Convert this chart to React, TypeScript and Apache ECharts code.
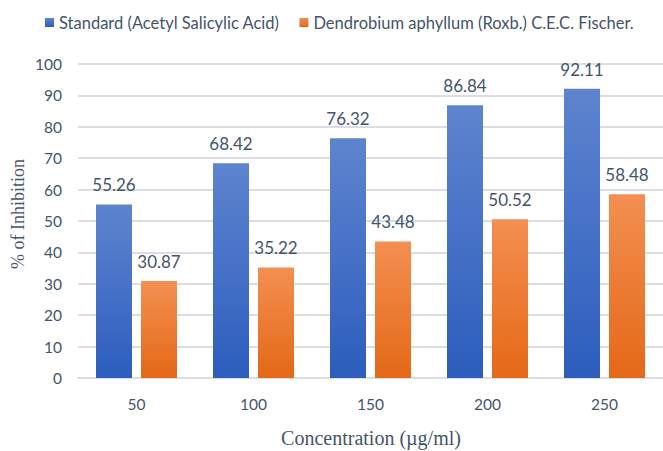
import React, { useEffect, useRef } from "react";
import * as echarts from "echarts";

const categories = ["50", "100", "150", "200", "250"];
const standardValues = [55.26, 68.42, 76.32, 86.84, 92.11];
const dendrobiumValues = [30.87, 35.22, 43.48, 50.52, 58.48];
const seriesNames = [
  "Standard (Acetyl Salicylic Acid)",
  "Dendrobium aphyllum (Roxb.) C.E.C. Fischer.",
];
const yTitle = "% of Inhibition";
const xTitle = "Concentration (\u00b5g/ml)";

const SANS = "Lato, 'Noto Sans', sans-serif";
const SERIF = "'Liberation Serif', 'DejaVu Serif', serif";
const TEXT = "#44546a";

export default function App() {
  const ref = useRef<HTMLDivElement>(null);
  useEffect(() => {
    if (!ref.current) return;
    const chart = echarts.init(ref.current, null, { renderer: "svg" });
    const blueGrad = new echarts.graphic.LinearGradient(0, 0, 0, 1, [
      { offset: 0, color: "#5e84cf" },
      { offset: 1, color: "#2c5dbd" },
    ]);
    const orangeGrad = new echarts.graphic.LinearGradient(0, 0, 0, 1, [
      { offset: 0, color: "#f38f51" },
      { offset: 1, color: "#e46817" },
    ]);
    const label = {
      show: true,
      position: "top" as const,
      distance: 11,
      color: TEXT,
      fontFamily: SANS,
      fontSize: 17,
      formatter: (p: any) => p.value.toFixed(2),
    };
    chart.setOption({
      animation: false,
      backgroundColor: "#ffffff",
      legend: {
        left: 40,
        top: 9,
        itemWidth: 9,
        itemHeight: 9,
        itemGap: 20,
        icon: "rect",
        textStyle: { color: TEXT, fontFamily: SANS, fontSize: 16.5 },
        data: seriesNames,
      },
      grid: { left: 78, width: 590, top: 64, bottom: 73 },
      xAxis: {
        type: "category",
        data: categories,
        axisLine: { show: true, lineStyle: { color: "#dadde4", width: 2 } },
        axisTick: { show: false },
        axisLabel: { color: TEXT, fontFamily: SANS, fontSize: 15.5, margin: 18 },
      },
      yAxis: {
        type: "value",
        min: 0,
        max: 100,
        interval: 10,
        axisLine: { show: false },
        axisTick: { show: false },
        splitLine: { lineStyle: { color: "#dadde4", width: 2 } },
        axisLabel: { color: TEXT, fontFamily: SANS, fontSize: 15.5, margin: 16 },
      },
      graphic: [
        {
          type: "text",
          x: 18,
          y: 214,
          rotation: Math.PI / 2,
          style: {
            text: yTitle,
            fill: TEXT,
            font: `18px ${SERIF}`,
            textAlign: "center",
            textVerticalAlign: "middle",
          },
        },
        {
          type: "text",
          x: 371,
          y: 438,
          style: {
            text: xTitle,
            fill: TEXT,
            font: `20px ${SERIF}`,
            textAlign: "center",
            textVerticalAlign: "middle",
          },
        },
      ],
      series: [
        {
          name: seriesNames[0],
          type: "bar",
          data: standardValues,
          barWidth: 36,
          barGap: "25%",
          itemStyle: { color: blueGrad },
          label,
        },
        {
          name: seriesNames[1],
          type: "bar",
          data: dendrobiumValues,
          barWidth: 36,
          itemStyle: { color: orangeGrad },
          label,
        },
      ],
    });
    return () => chart.dispose();
  }, []);
  return (
    <div
      ref={ref}
      style={{ position: "absolute", left: 0, top: 0, width: 663, height: 451, background: "#fff" }}
    />
  );
}
